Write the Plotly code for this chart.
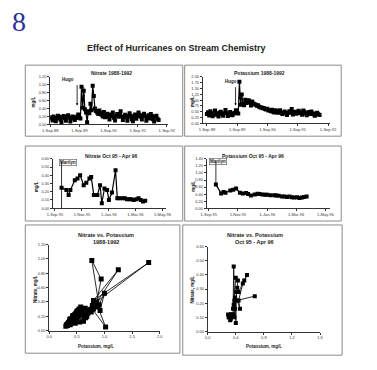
import plotly.graph_objects as go
import pandas as pd

# ---------------- data ----------------
nitrate_88_92 = [
    0.15, 0.18, 0.10, 0.20, 0.17, 0.08, 0.16, 0.22, 0.19, 0.12,
    0.06, 0.18, 0.21, 0.16, 0.09, 0.19, 0.23, 0.17, 0.07, 0.15,
    0.20, 0.18, 0.11, 0.16, 0.19, 0.25, 0.17, 0.15, 0.95, 0.42,
    0.85, 0.38, 0.30, 0.05, 0.33, 0.28, 0.52, 0.36, 0.98, 0.72,
    0.40, 0.34, 0.30, 0.26, 0.35, 0.29, 0.24, 0.20, 0.31, 0.18,
    0.22, 0.27, 0.19, 0.12, 0.25, 0.21, 0.30, 0.17, 0.10, 0.22,
    0.26, 0.19, 0.23, 0.33, 0.20, 0.11, 0.18, 0.24, 0.21, 0.09,
    0.19, 0.28, 0.22, 0.13, 0.08, 0.20, 0.25, 0.14, 0.21, 0.30,
    0.24, 0.19, 0.12, 0.22, 0.27, 0.20, 0.09, 0.18, 0.23, 0.15,
    0.26, 0.21, 0.13, 0.07, 0.19, 0.22, 0.14, 0.11,
]
potassium_88_92 = [
    0.40, 0.48, 0.34, 0.52, 0.45, 0.31, 0.38, 0.55, 0.44, 0.36,
    0.30, 0.47, 0.50, 0.39, 0.33, 0.44, 0.58, 0.45, 0.32, 0.37,
    0.49, 0.43, 0.35, 0.41, 0.46, 0.56, 0.46, 0.42, 1.80, 0.80,
    1.25, 0.85, 0.78, 1.02, 0.88, 0.92, 1.00, 0.90, 0.77, 0.94,
    0.86, 0.82, 0.80, 0.76, 0.78, 0.72, 0.70, 0.68, 0.65, 0.66,
    0.62, 0.60, 0.63, 0.55, 0.58, 0.52, 0.59, 0.50, 0.47, 0.56,
    0.53, 0.46, 0.52, 0.57, 0.45, 0.40, 0.47, 0.51, 0.44, 0.36,
    0.45, 0.52, 0.47, 0.62, 0.38, 0.46, 0.50, 0.41, 0.45, 0.54,
    0.48, 0.44, 0.37, 0.55, 0.50, 0.43, 0.35, 0.45, 0.49, 0.40,
    0.51, 0.43, 0.38, 0.33, 0.42, 0.46, 0.39, 0.36,
]
dates_88_92 = pd.date_range("1988-09-01", periods=len(nitrate_88_92), freq="14D")

dates_95_96 = [
    "1995-09-16", "1995-09-27", "1995-10-02", "1995-10-06", "1995-10-16",
    "1995-10-22", "1995-10-28", "1995-11-05", "1995-11-11", "1995-11-18",
    "1995-11-22", "1995-11-28", "1995-12-06", "1995-12-12", "1995-12-16",
    "1995-12-22", "1995-12-28", "1996-01-01", "1996-01-08", "1996-01-16",
    "1996-01-20", "1996-01-25", "1996-02-01", "1996-02-06", "1996-02-11",
    "1996-02-16", "1996-02-21", "1996-02-26", "1996-03-03", "1996-03-08",
    "1996-03-13", "1996-03-18", "1996-03-23",
]
nitrate_95_96 = [
    0.25, 0.22, 0.16, 0.22, 0.34, 0.36, 0.40, 0.28, 0.31, 0.36,
    0.38, 0.16, 0.16, 0.28, 0.06, 0.24, 0.22, 0.10, 0.19, 0.46,
    0.12, 0.12, 0.12, 0.12, 0.11, 0.11, 0.11, 0.10, 0.11, 0.12,
    0.10, 0.08, 0.09,
]
potassium_95_96 = [
    0.67, 0.42, 0.46, 0.44, 0.50, 0.52, 0.56, 0.44, 0.42, 0.43,
    0.40, 0.36, 0.39, 0.41, 0.40, 0.39, 0.38, 0.38, 0.37, 0.37,
    0.36, 0.35, 0.33, 0.33, 0.32, 0.33, 0.31, 0.30, 0.31, 0.29,
    0.30, 0.32, 0.33,
]

ticks_88_92 = ["1988-09-01", "1989-09-01", "1990-09-01", "1991-09-01", "1992-09-01"]
ticklabels_88_92 = ["1-Sep-88", "1-Sep-89", "1-Sep-90", "1-Sep-91", "1-Sep-92"]
ticks_95_96 = ["1995-09-01", "1995-11-01", "1996-01-01", "1996-03-01", "1996-05-01"]
ticklabels_95_96 = ["1-Sep-95", "1-Nov-95", "1-Jan-96", "1-Mar-96", "1-May-96"]

marilyn_date = "1995-09-16"

# ---------------- layout helpers ----------------
W, H = 377, 370


def px(x):
    return x / W


def py(y):
    return 1 - y / H


TICKFONT = dict(family="Arial", size=4, color="#333")
LINEC = "#333"


def xaxis_cfg(x0, x1, anchor, **kw):
    d = dict(domain=[px(x0), px(x1)], anchor=anchor, showgrid=False, zeroline=False,
             showline=True, linecolor=LINEC, linewidth=1, ticks="outside", ticklen=2,
             tickwidth=0.6, tickcolor=LINEC, tickfont=TICKFONT, fixedrange=True)
    d.update(kw)
    return d


def yaxis_cfg(y0, y1, anchor, **kw):
    d = dict(domain=[py(y1), py(y0)], anchor=anchor, showgrid=False, zeroline=False,
             showline=True, linecolor=LINEC, linewidth=1, ticks="outside", ticklen=2,
             tickwidth=0.6, tickcolor=LINEC, tickfont=TICKFONT, fixedrange=True)
    d.update(kw)
    return d


fig = go.Figure()

ts_line = dict(color="black", width=1.2)
ts_marker = dict(color="black", size=4, symbol="square")
sc_line = dict(color="#111", width=0.9)

fig.add_trace(go.Scatter(x=dates_88_92, y=nitrate_88_92, mode="lines+markers",
                         line=ts_line, marker=ts_marker, xaxis="x", yaxis="y"))
fig.add_trace(go.Scatter(x=dates_88_92, y=potassium_88_92, mode="lines+markers",
                         line=ts_line, marker=ts_marker, xaxis="x2", yaxis="y2"))
fig.add_trace(go.Scatter(x=dates_95_96, y=nitrate_95_96, mode="lines+markers",
                         line=ts_line, marker=ts_marker, xaxis="x3", yaxis="y3"))
fig.add_trace(go.Scatter(x=dates_95_96, y=potassium_95_96, mode="lines+markers",
                         line=ts_line, marker=ts_marker, xaxis="x4", yaxis="y4"))
fig.add_trace(go.Scatter(x=potassium_88_92, y=nitrate_88_92, mode="lines+markers",
                         line=sc_line, marker=dict(color="black", size=5, symbol="square"),
                         xaxis="x5", yaxis="y5"))
fig.add_trace(go.Scatter(x=potassium_95_96, y=nitrate_95_96, mode="lines+markers",
                         line=sc_line, marker=dict(color="black", size=4, symbol="square"),
                         xaxis="x6", yaxis="y6"))

fig.update_layout(
    width=W, height=H, autosize=False, showlegend=False,
    margin=dict(l=0, r=0, t=0, b=0, pad=0),
    paper_bgcolor="white", plot_bgcolor="white",
    xaxis=xaxis_cfg(44, 167, "y", type="date", range=["1988-09-01", "1992-09-20"],
                    tickvals=ticks_88_92, ticktext=ticklabels_88_92),
    yaxis=yaxis_cfg(75, 123, "x", range=[0, 1.2], dtick=0.2, tickformat=".2f"),
    xaxis2=xaxis_cfg(203, 335, "y2", type="date", range=["1988-07-15", "1992-09-20"],
                     tickvals=ticks_88_92, ticktext=ticklabels_88_92),
    yaxis2=yaxis_cfg(75, 122, "x2", range=[0, 2.0], dtick=0.25, tickformat=".2f"),
    xaxis3=xaxis_cfg(47, 165, "y3", type="date", range=["1995-08-28", "1996-05-10"],
                     tickvals=ticks_95_96, ticktext=ticklabels_95_96),
    yaxis3=yaxis_cfg(158, 208, "x3", range=[0, 0.6], dtick=0.1, tickformat=".2f"),
    xaxis4=xaxis_cfg(207, 335, "y4", type="date", range=["1995-08-28", "1996-05-10"],
                     tickvals=ticks_95_96, ticktext=ticklabels_95_96),
    yaxis4=yaxis_cfg(158, 208, "x4", range=[0, 1.4], dtick=0.2, tickformat=".2f"),
    xaxis5=xaxis_cfg(43, 158, "y5", range=[0, 2.0], dtick=0.5, tickformat=".1f"),
    yaxis5=yaxis_cfg(245, 332, "x5", range=[0, 1.2], dtick=0.2, tickformat=".2f"),
    xaxis6=xaxis_cfg(208, 325, "y6", range=[0, 1.6], dtick=0.4, tickformat=".1f"),
    yaxis6=yaxis_cfg(247, 333, "x6", range=[0, 0.6], dtick=0.1, tickformat=".2f"),
)

# panel frames
shapes = []
for (x0, y0, x1, y1) in [(18, 63, 182, 135), (184, 63, 347, 135),
                         (18, 145, 182, 221), (184, 145, 347, 221),
                         (18, 225, 179, 355), (182, 225, 348, 357)]:
    shapes.append(dict(type="rect", xref="paper", yref="paper",
                       x0=px(x0), x1=px(x1), y0=py(y1), y1=py(y0),
                       line=dict(color="#8a8a8a", width=1)))
# hurricane marker lines (Oct 95 - Apr 96 panels)
shapes.append(dict(type="line", xref="x3", yref="y3 domain", x0=marilyn_date, x1=marilyn_date,
                   y0=0, y1=0.95, line=dict(color="black", width=0.8)))
shapes.append(dict(type="line", xref="x4", yref="y4 domain", x0=marilyn_date, x1=marilyn_date,
                   y0=0.5, y1=0.95, line=dict(color="black", width=0.8)))
fig.update_layout(shapes=shapes)

ann = []


def text(x, y, s, size=5, bold=True, angle=0, color="#222", family="Arial", **kw):
    d = dict(x=px(x), y=py(y), xref="paper", yref="paper", showarrow=False,
             text=(f"<b>{s}</b>" if bold else s), textangle=angle,
             font=dict(family=family, size=size, color=color),
             xanchor="center", yanchor="middle")
    d.update(kw)
    ann.append(d)


# big figure number
text(11, 1, "8", size=28, bold=False, color="#2b2f96", family="Liberation Serif",
     yanchor="top")
# main title
text(175, 46, "Effect of Hurricanes on Stream Chemistry", size=9)

# panel titles
text(108, 71, "Nitrate 1988-1992", size=5)
text(262, 71, "Potassium 1988-1992", size=5)
text(108, 155, "Nitrate Oct 95 - Apr 96", size=5)
text(255, 155, "Potassium Oct 95 - Apr 96", size=5)
text(102, 235, "Nitrate vs. Potassium", size=5.5)
text(102, 242, "1988-1992", size=5.5)
text(257, 235, "Nitrate vs. Potassium", size=5.5)
text(257, 242, "Oct 95 - Apr 96", size=5.5)

# axis titles
for (x, y) in [(27, 100), (192, 100), (30, 186), (193, 186)]:
    text(x, y, "mg/L", size=4.5, angle=-90)
text(28, 290, "Nitrate, mg/L", size=4.5, angle=-90)
text(192, 290, "Nitrate, mg/L", size=4.5, angle=-90)
text(92, 348, "Potassium, mg/L", size=4.5)
text(267, 348, "Potassium, mg/L", size=4.5)

# hurricane labels
text(63, 78, "Hugo", size=4.5)
text(232, 80, "Hugo", size=4.5)
text(62, 162, "Marilyn", size=4.5, bordercolor="#333", borderwidth=0.5, borderpad=0.5)
text(219, 161, "Marilyn", size=4.5, bordercolor="#333", borderwidth=0.5, borderpad=0.5)

# hurricane arrows
for (x, ytail, yhead) in [(72, 82, 104), (79, 84, 96), (237, 84, 104), (241, 86, 98)]:
    ann.append(dict(x=px(x), y=py(yhead), xref="paper", yref="paper", ax=0,
                    ay=-(yhead - ytail), showarrow=True, arrowhead=2, arrowsize=0.6,
                    arrowwidth=0.8, arrowcolor="black", text=""))

fig.update_layout(annotations=ann)

fig.write_html("out.html")
